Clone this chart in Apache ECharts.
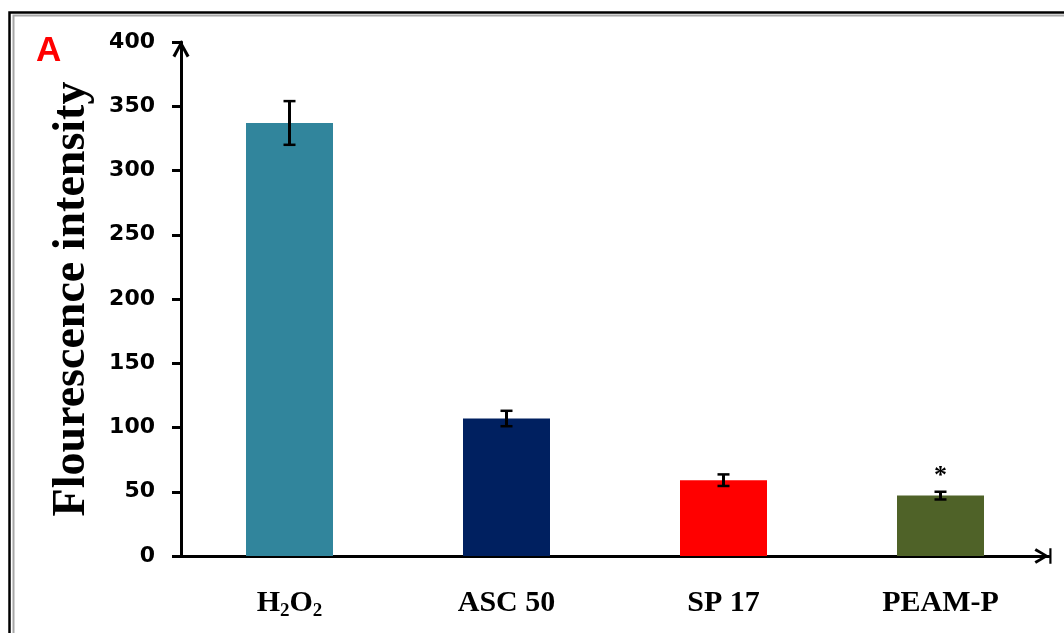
<!DOCTYPE html>
<html>
<head>
<meta charset="utf-8">
<script src="https://cdn.jsdelivr.net/npm/echarts@6/dist/echarts.min.js"></script>
<style>
  html, body { margin: 0; padding: 0; background: #fff; }
  #chart { width: 1064px; height: 633px; }
</style>
</head>
<body>
<div id="chart"></div>
<script>
// Treatment groups and measured fluorescence (mean ± SD)
const categories = ['H2O2', 'ASC 50', 'SP 17', 'PEAM-P'];
const means = [337, 107, 59, 47];
const errors = [17, 6, 4.5, 3];
const significance = ['', '', '', '*'];
const barColors = ['#31859C', '#002060', '#FF0000', '#4F6228'];
const yTicks = { min: 0, max: 400, step: 50 };

// Open chevron arrowheads for the axis ends (pointing up in path space)
const chevron = 'path://M0,9 L5,0 L10,9 L8.4,10 L5,3.6 L1.6,10 Z';
const chevronBar = 'path://M0,10 L5,1.6 L10,10 L8.4,11 L5,4.8 L1.6,11 Z M0,0 L10,0 L10,1.4 L0,1.4 Z';

const serif = '"Liberation Serif", "Times New Roman", serif';

const chart = echarts.init(document.getElementById('chart'));

chart.setOption({
  animation: false,
  backgroundColor: '#fff',
  graphic: [
    { type: 'rect', silent: true, shape: { x: 9.5, y: 12.5, width: 1100, height: 700 },
      style: { fill: 'none', stroke: '#000', lineWidth: 2.5 } },
    { type: 'rect', silent: true, shape: { x: 13.5, y: 15.5, width: 1100, height: 700 },
      style: { fill: 'none', stroke: '#a8a8a8', lineWidth: 2 } },
    { type: 'text', left: 36, top: 34,
      style: { text: 'A', fill: '#ff0000', font: 'bold 35px "Liberation Sans", Arial, sans-serif' } }
  ],
  grid: { left: 181, top: 42, width: 868, bottom: 77, containLabel: false },
  xAxis: [
    {
      type: 'category',
      data: categories,
      axisLine: { lineStyle: { color: '#000', width: 3 },
        symbol: ['none', chevronBar], symbolSize: [20, 17], symbolOffset: [0, -6] },
      axisTick: { alignWithLabel: true, length: 7, lineStyle: { color: '#000', width: 3 } },
      axisLabel: {
        interval: 0,
        margin: 32,
        color: '#000',
        fontFamily: serif,
        fontWeight: 'bold',
        fontSize: 30,
        lineHeight: 30,
        formatter: v => v === 'H2O2' ? 'H{sub|2}O{sub|2}' : v,
        rich: {
          sub: { fontSize: 19, lineHeight: 14, padding: [16, 0, 0, 0], verticalAlign: 'middle',
                 fontFamily: serif, fontWeight: 'bold', color: '#000' }
        }
      },
      splitLine: { show: false }
    },
    {
      type: 'category',
      data: categories,
      position: 'bottom',
      axisLine: { show: false },
      axisTick: { show: true, inside: true, alignWithLabel: true, length: 6, lineStyle: { color: '#000', width: 3 } },
      axisLabel: { show: false },
      splitLine: { show: false }
    }
  ],
  yAxis: {
    type: 'value',
    min: yTicks.min,
    max: yTicks.max,
    interval: yTicks.step,
    name: 'Flourescence intensity',
    nameLocation: 'middle',
    nameGap: 86,
    nameTextStyle: {
      color: '#000',
      fontFamily: serif,
      fontWeight: 'bold',
      fontSize: 46
    },
    axisLine: { show: true, lineStyle: { color: '#000', width: 3 },
      symbol: ['none', chevron], symbolSize: [20, 17], symbolOffset: [0, -7] },
    axisTick: { show: true, length: 9, lineStyle: { color: '#000', width: 3 } },
    axisLabel: {
      margin: 26,
      color: '#000',
      fontFamily: '"DejaVu Sans", Verdana, sans-serif',
      fontWeight: 'bold',
      fontSize: 22
    },
    splitLine: { show: false }
  },
  series: [
    {
      type: 'bar',
      barWidth: 87,
      data: means.map((v, i) => ({ value: v, itemStyle: { color: barColors[i] } })),
      z: 2
    },
    {
      type: 'custom',
      z: 3,
      data: means.map((v, i) => [i, v, errors[i]]),
      renderItem: (params, api) => {
        const i = api.value(0);
        const v = api.value(1);
        const e = api.value(2);
        const mark = significance[i];
        const top = api.coord([i, v + e]);
        const bot = api.coord([i, v - e]);
        const half = 6;
        const style = { stroke: '#000', lineWidth: 3 };
        const capStyle = { stroke: '#000', lineWidth: 2.5 };
        const children = [
          { type: 'line', shape: { x1: top[0], y1: top[1], x2: bot[0], y2: bot[1] }, style },
          { type: 'line', shape: { x1: top[0] - half, y1: top[1], x2: top[0] + half, y2: top[1] }, style: capStyle },
          { type: 'line', shape: { x1: bot[0] - half, y1: bot[1], x2: bot[0] + half, y2: bot[1] }, style: capStyle }
        ];
        if (mark) {
          children.push({
            type: 'text',
            style: {
              text: mark, x: top[0], y: top[1] - 2,
              align: 'center', verticalAlign: 'bottom',
              fill: '#000',
              font: 'bold 26px ' + serif
            }
          });
        }
        return { type: 'group', children };
      }
    }
  ]
});
</script>
</body>
</html>
